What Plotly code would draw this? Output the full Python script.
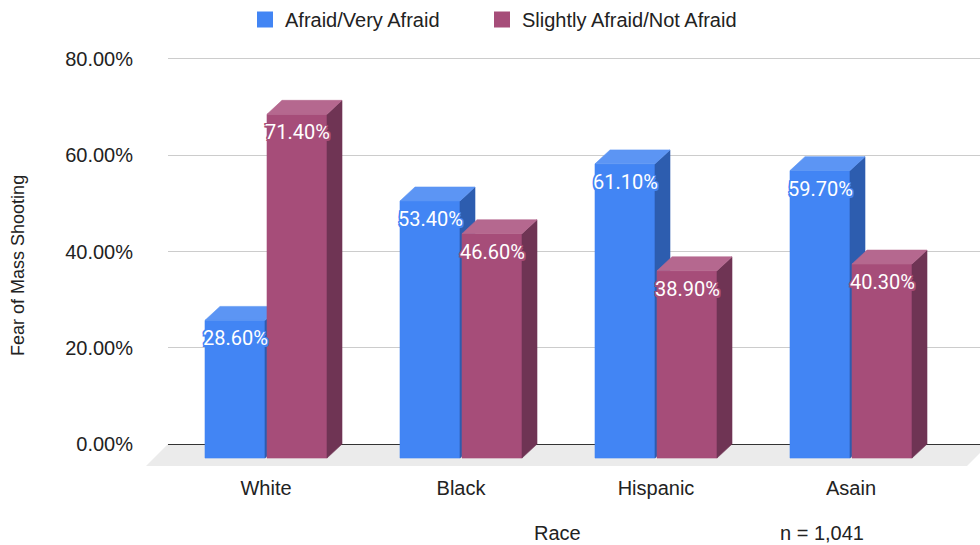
import plotly.graph_objects as go

# ---- data -----------------------------------------------------------------
races = ["White", "Black", "Hispanic", "Asain"]
afraid = [28.6, 53.4, 61.1, 59.7]
not_afraid = [71.4, 46.6, 38.9, 40.3]
series_names = ["Afraid/Very Afraid", "Slightly Afraid/Not Afraid"]
y_ticks = [0, 20, 40, 60, 80]
y_tick_labels = [f"{v:.2f}%" for v in y_ticks]

# ---- styling ----------------------------------------------------------------
FRONT = ["#4285F4", "#A64D79"]
TOP = ["#5C95F4", "#B5688F"]
SIDE = ["#2D5DAF", "#6F3454"]
AXIS_FONT = "Liberation Sans, Arial, sans-serif"
LABEL_FONT = "Roboto, sans-serif"
TEXT_COLOR = "#222222"

W, H = 980, 545
M_L, M_R, M_T, M_B = 168, 0, 40, 77
PLOT_W = W - M_L - M_R
PLOT_H = H - M_T - M_B
PX_PER_CAT = 195.0          # pixels between category centres
PX_PER_PCT = 4.8375         # pixels per percentage point
FIRST_CENTER_PX = 98        # first category centre from the plot's left edge
ZERO_PX = 444               # pixel row of the 0% line

x_lo = -FIRST_CENTER_PX / PX_PER_CAT
x_hi = x_lo + PLOT_W / PX_PER_CAT
y_hi = (ZERO_PX - M_T) / PX_PER_PCT
y_lo = y_hi - PLOT_H / PX_PER_PCT

# 3-D box geometry in axis units
BW = 60 / PX_PER_CAT        # front face width
GAP = 2 / PX_PER_CAT        # gap between the paired bars
DX = 15 / PX_PER_CAT        # depth, horizontal
DY = 14 / PX_PER_PCT        # depth, vertical
FLOOR_DEPTH_PX = 22
FLOOR_BACK_RIGHT_PX = 989

# left edge (px) of each legend entry
LEGEND_LEFT_PX = [245, 482]

fig = go.Figure()


def add_poly(xs, ys, color):
    fig.add_trace(go.Scatter(
        x=xs, y=ys, mode="lines", fill="toself", fillcolor=color,
        line=dict(color=color, width=0.6), hoverinfo="skip",
        showlegend=False,
    ))


annotations = []
for s, values in enumerate([afraid, not_afraid]):
    fx, fy, sx, sy, tx, ty = [], [], [], [], [], []
    for i, v in enumerate(values):
        x0 = i - BW - GAP / 2 + s * (BW + GAP)
        x1 = x0 + BW
        yb = -DY
        yt = v - DY
        fx += [x0, x1, x1, x0, x0, None]
        fy += [yb, yb, yt, yt, yb, None]
        sx += [x1, x1 + DX, x1 + DX, x1, x1, None]
        sy += [yb, 0, v, yt, yb, None]
        tx += [x0, x1, x1 + DX, x0 + DX, x0, None]
        ty += [yt, yt, v, v, yt, None]
        c = FRONT[s]
        halo = ", ".join(f"{a}px {b}px 0 {c}" for a in (-1.5, 0, 1.5)
                         for b in (-1.5, 0, 1.5) if (a, b) != (0, 0))
        annotations.append(dict(
            x=(x0 + x1) / 2, y=yt, xref="x", yref="y", yshift=-18,
            text=f"{v:.2f}%", showarrow=False, xanchor="center",
            yanchor="middle",
            font=dict(family=LABEL_FONT, size=20, color="white", shadow=halo),
        ))
    # front, then side, then top; the second series is drawn over the first
    add_poly(fx, fy, FRONT[s])
    add_poly(sx, sy, SIDE[s])
    add_poly(tx, ty, TOP[s])

# legend entries, one legend box each
legend_ids = ["legend", "legend2"]
for s, name in enumerate(series_names):
    fig.add_trace(go.Scatter(
        x=[None], y=[None], mode="markers", name=name, legend=legend_ids[s],
        marker=dict(symbol="square", size=16, color=FRONT[s]),
    ))

# floor under the bars
fd_paper = FLOOR_DEPTH_PX / PLOT_W
fr_paper = (FLOOR_BACK_RIGHT_PX - M_L) / PLOT_W
fd_y = -FLOOR_DEPTH_PX / PX_PER_PCT
floor_path = (f"M0,0 L{fr_paper},0 L{fr_paper - fd_paper},{fd_y} "
              f"L{-fd_paper},{fd_y} Z")

annotations += [
    dict(x=(557 - M_L) / PLOT_W, y=(H - 533 - M_B) / PLOT_H,
         xref="paper", yref="paper", text="Race", showarrow=False,
         xanchor="center", yanchor="middle",
         font=dict(family=AXIS_FONT, size=20, color=TEXT_COLOR)),
    dict(x=(822 - M_L) / PLOT_W, y=(H - 533 - M_B) / PLOT_H,
         xref="paper", yref="paper", text="n = 1,041", showarrow=False,
         xanchor="center", yanchor="middle",
         font=dict(family=AXIS_FONT, size=20, color=TEXT_COLOR)),
    dict(x=(18 - M_L) / PLOT_W, y=(H - 265 - M_B) / PLOT_H,
         xref="paper", yref="paper", text="Fear of Mass Shooting",
         showarrow=False, textangle=-90, xanchor="center", yanchor="middle",
         font=dict(family=AXIS_FONT, size=18, color=TEXT_COLOR)),
]


def legend_box(left_px):
    return dict(
        orientation="h", x=(left_px - M_L) / PLOT_W, xanchor="left",
        y=1 + (M_T - 17) / PLOT_H, yanchor="middle",
        font=dict(family=AXIS_FONT, size=20, color=TEXT_COLOR),
        bgcolor="rgba(0,0,0,0)",
    )


fig.update_layout(
    width=W, height=H,
    margin=dict(l=M_L, r=M_R, t=M_T, b=M_B),
    paper_bgcolor="white",
    plot_bgcolor="rgba(0,0,0,0)",
    font=dict(family=AXIS_FONT, size=20, color=TEXT_COLOR),
    shapes=[dict(type="path", path=floor_path, xref="paper", yref="y",
                 fillcolor="#EBEBEB", line=dict(width=0), layer="below")],
    annotations=annotations,
    showlegend=True,
    legend=legend_box(LEGEND_LEFT_PX[0]),
    legend2=legend_box(LEGEND_LEFT_PX[1]),
    xaxis=dict(
        range=[x_lo, x_hi], tickvals=list(range(len(races))), ticktext=races,
        showgrid=False, zeroline=False, showline=False, ticks="",
        ticklabelstandoff=6, fixedrange=True,
    ),
    yaxis=dict(
        range=[y_lo, y_hi], tickvals=y_ticks, ticktext=y_tick_labels,
        showgrid=True, gridcolor="#CCCCCC", gridwidth=1,
        zeroline=True, zerolinecolor="#333333", zerolinewidth=1,
        showline=False, ticks="", ticklabelstandoff=34, fixedrange=True,
    ),
)

fig.write_html("out.html")
